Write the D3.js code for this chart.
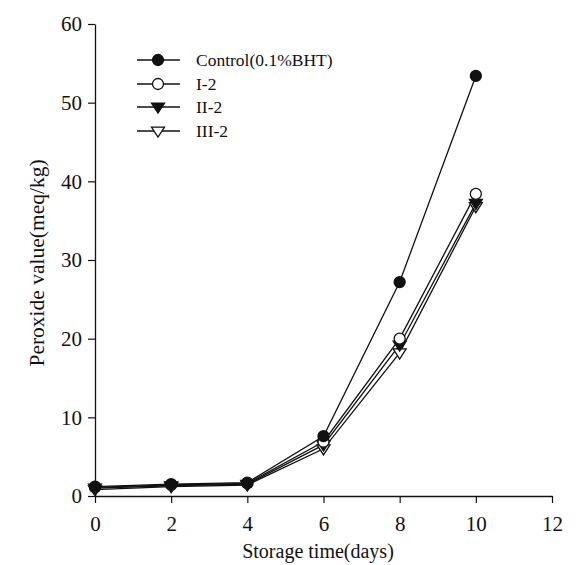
<!DOCTYPE html>
<html>
<head>
<meta charset="utf-8">
<script src="https://cdn.jsdelivr.net/npm/d3@7"></script>
<style>
  body { margin: 0; background: #fff; }
  text { font-family: "Liberation Serif", "Times New Roman", serif; fill: #111; }
</style>
</head>
<body>
<div id="chart"></div>
<script>
const days = [0, 2, 4, 6, 8, 10];
const control = [1.2, 1.5, 1.7, 7.6, 27.2, 53.4];
const i2 = [1.1, 1.4, 1.6, 6.9, 20.0, 38.4];
const ii2 = [1.0, 1.3, 1.5, 6.5, 19.2, 37.2];
const iii2 = [0.8, 1.2, 1.4, 6.0, 18.2, 36.8];
const seriesNames = ['Control(0.1%BHT)', 'I-2', 'II-2', 'III-2'];
const xTicks = [0, 2, 4, 6, 8, 10, 12];
const yTicks = [0, 10, 20, 30, 40, 50, 60];

const width = 579;
const height = 565;
const ink = '#111';

const svg = d3.select('#chart')
  .append('svg')
  .attr('width', width)
  .attr('height', height);

const xScale = d3.scaleLinear().domain([0, 12]).range([95, 552]);
const yScale = d3.scaleLinear().domain([0, 60]).range([496, 24]);

// axes
const xAxis = svg.append('g')
  .attr('transform', `translate(0,${yScale(0)})`)
  .call(d3.axisBottom(xScale).tickValues(xTicks).tickSize(7).tickSizeOuter(0).tickPadding(13));

const yAxis = svg.append('g')
  .attr('transform', `translate(${xScale(0)},0)`)
  .call(d3.axisLeft(yScale).tickValues(yTicks).tickSize(7).tickSizeOuter(0).tickPadding(6));

[xAxis, yAxis].forEach((g) => {
  g.select('.domain').attr('stroke', ink).attr('stroke-width', 1.3);
  g.selectAll('.tick line').attr('stroke', ink).attr('stroke-width', 1.2);
  g.selectAll('.tick text')
    .attr('fill', ink)
    .attr('font-size', '21px')
    .style('font-family', '"Liberation Serif", serif');
});

// axis titles
svg.append('text')
  .attr('x', 318)
  .attr('y', 558)
  .attr('text-anchor', 'middle')
  .attr('font-size', '20px')
  .text('Storage time(days)');

svg.append('text')
  .attr('transform', `translate(44,263) rotate(-90)`)
  .attr('text-anchor', 'middle')
  .attr('font-size', '21.5px')
  .text('Peroxide value(meq/kg)');

const allSeries = [control, i2, ii2, iii2];
const markerKinds = ['circleFilled', 'circleOpen', 'triFilled', 'triOpen'];

const line = d3.line()
  .x((d, i) => xScale(days[i]))
  .y((d) => yScale(d));

function drawMarker(g, kind, cx, cy) {
  if (kind.startsWith('circle')) {
    g.append('circle')
      .attr('cx', cx)
      .attr('cy', cy)
      .attr('r', 5.5)
      .attr('fill', kind === 'circleFilled' ? ink : '#fff')
      .attr('stroke', ink)
      .attr('stroke-width', 1.3);
  } else {
    const s = 6.5;
    g.append('path')
      .attr('d', `M${cx - s},${cy - s * 0.6} L${cx + s},${cy - s * 0.6} L${cx},${cy + s * 0.95} Z`)
      .attr('fill', kind === 'triFilled' ? ink : '#fff')
      .attr('stroke', ink)
      .attr('stroke-width', 1.3);
  }
}

// lines first, then markers
allSeries.forEach((values) => {
  svg.append('path')
    .datum(values)
    .attr('d', line)
    .attr('fill', 'none')
    .attr('stroke', ink)
    .attr('stroke-width', 1.3);
});

for (let s = allSeries.length - 1; s >= 0; s--) {
  const g = svg.append('g');
  allSeries[s].forEach((v, i) => drawMarker(g, markerKinds[s], xScale(days[i]), yScale(v)));
}

// legend
const legendY = [60, 84, 107, 131];
seriesNames.forEach((name, i) => {
  const g = svg.append('g');
  g.append('line')
    .attr('x1', 137)
    .attr('x2', 180)
    .attr('y1', legendY[i])
    .attr('y2', legendY[i])
    .attr('stroke', ink)
    .attr('stroke-width', 1.3);
  drawMarker(g, markerKinds[i], 158, legendY[i]);
  g.append('text')
    .attr('x', 196)
    .attr('y', legendY[i] + 6)
    .attr('font-size', '17.5px')
    .text(name);
});
</script>
</body>
</html>
